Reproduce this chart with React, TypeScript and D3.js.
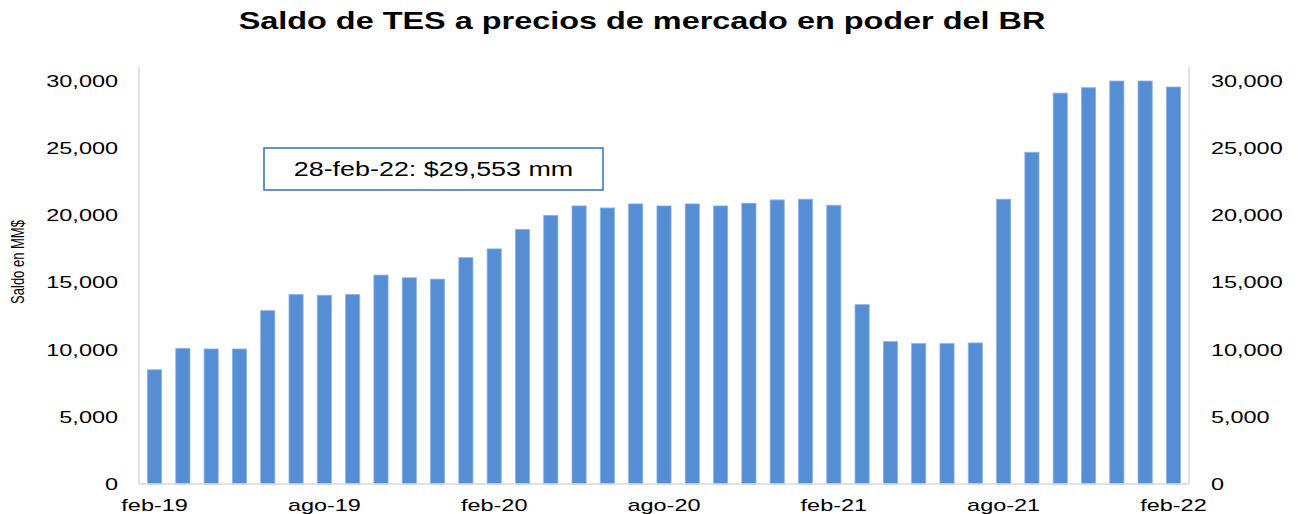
import * as d3 from "d3";

const months = [
  "feb-19", "mar-19", "abr-19", "may-19", "jun-19", "jul-19", "ago-19", "sep-19", "oct-19", "nov-19", "dic-19",
  "ene-20", "feb-20", "mar-20", "abr-20", "may-20", "jun-20", "jul-20", "ago-20", "sep-20", "oct-20", "nov-20", "dic-20",
  "ene-21", "feb-21", "mar-21", "abr-21", "may-21", "jun-21", "jul-21", "ago-21", "sep-21", "oct-21", "nov-21", "dic-21",
  "ene-22", "feb-22",
];

const saldo = [
  8500, 10100, 10050, 10050, 12900, 14100, 14050, 14100, 15550, 15350, 15250,
  16850, 17500, 18950, 20000, 20700, 20550, 20850, 20700, 20850, 20700, 20900, 21150,
  21200, 20750, 13350, 10600, 10450, 10450, 10500, 21200, 24700, 29100, 29500, 30000,
  30000, 29553,
];

const shownLabels = ["feb-19", "ago-19", "feb-20", "ago-20", "feb-21", "ago-21", "feb-22"];
const yTicks = [0, 5000, 10000, 15000, 20000, 25000, 30000];
const note = "28-feb-22: $29,553 mm";

// the source image is stretched sideways, so text is widened
const SX = 1.38;

function Wide({ x, y, anchor = "middle", size = 17, bold = false, children }: any) {
  return (
    <text
      transform={`translate(${x},${y}) scale(${SX},1)`}
      dy="0.35em"
      textAnchor={anchor}
      fontSize={size}
      fontWeight={bold ? "bold" : "normal"}
      fill="#000"
    >
      {children}
    </text>
  );
}

export default function App() {
  const width = 1298;
  const height = 514;
  const left = 139;
  const right = 1189;
  const top = 81;
  const bottom = 484;

  const x = d3.scaleBand<string>().domain(months).range([left, right]).paddingInner(0.5).paddingOuter(0.3);
  const y = d3.scaleLinear().domain([0, 30000]).range([bottom, top]);
  const fmt = d3.format(",");
  const font = "'Liberation Sans', Arial, sans-serif";

  return (
    <svg width={width} height={height} style={{ position: "absolute", left: 0, top: 0 }} fontFamily={font}>
      <rect width={width} height={height} fill="#fff" />
      <Wide x={642} y={21} size={23.5} bold>
        Saldo de TES a precios de mercado en poder del BR
      </Wide>

      {months.map((m, i) => (
        <rect
          key={m}
          x={x(m)}
          y={y(saldo[i])}
          width={x.bandwidth()}
          height={bottom - y(saldo[i])}
          fill="#558ed5"
          stroke="#8db3e2"
          strokeWidth={0.8}
        />
      ))}

      <line x1={left} x2={left} y1={top - 14} y2={bottom} stroke="#d9d9d9" strokeWidth={1.5} />
      <line x1={right} x2={right} y1={top - 14} y2={bottom} stroke="#d9d9d9" strokeWidth={1.5} />
      <line x1={left} x2={right} y1={bottom} y2={bottom} stroke="#d9d9d9" strokeWidth={1.5} />

      {yTicks.map((t) => (
        <g key={t}>
          <Wide x={118} y={y(t)} anchor="end">{fmt(t)}</Wide>
          <Wide x={1211} y={y(t)} anchor="start">{fmt(t)}</Wide>
        </g>
      ))}

      {shownLabels.map((m) => (
        <Wide key={m} x={(x(m) ?? 0) + x.bandwidth() / 2} y={505}>
          {m}
        </Wide>
      ))}

      <text
        transform={`translate(24,262) scale(${SX},1) rotate(-90)`}
        textAnchor="middle"
        fontSize={13}
        fill="#000"
      >
        Saldo en MM$
      </text>

      <rect x={264} y={148} width={339} height={42} fill="#fff" stroke="#2e75b6" strokeWidth={1.5} />
      <Wide x={433.5} y={169} size={19.5}>
        {note}
      </Wide>
    </svg>
  );
}
